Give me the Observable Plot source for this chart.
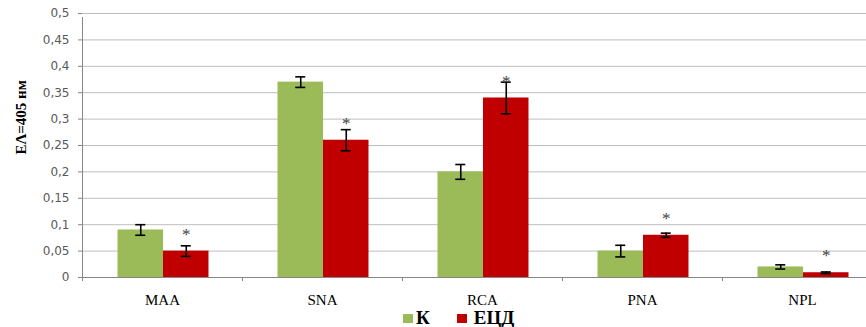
<!DOCTYPE html>
<html>
<head>
<meta charset="utf-8">
<script src="https://cdn.jsdelivr.net/npm/d3@7"></script>
<script src="https://cdn.jsdelivr.net/npm/@observablehq/plot@0.6"></script>
<style>
  html, body { margin: 0; padding: 0; background: #fff; overflow: hidden; }
  #wrap { position: relative; width: 866px; height: 327px; }
  #legend { position: absolute; left: 403px; top: 308px; font-family: "Liberation Serif", "Times New Roman", serif; font-weight: bold; font-size: 19px; line-height: 20px; display: flex; align-items: center; white-space: nowrap; }
  #legend .sw { display: inline-block; width: 10px; height: 9px; margin-right: 3px; }
</style>
</head>
<body>
<div id="wrap"><div id="chart"></div><div id="legend"></div></div>
<script>
const categories = ["MAA", "SNA", "RCA", "PNA", "NPL"];
const seriesNames = ["К", "ЕЦД"];
const valuesK   = [0.09, 0.37, 0.20, 0.05, 0.02];
const errorsK   = [0.010, 0.010, 0.014, 0.011, 0.004];
const valuesE   = [0.05, 0.26, 0.34, 0.08, 0.009];
const errorsE   = [0.010, 0.020, 0.030, 0.004, 0.0015];
const starY     = [0.089, 0.30, 0.379, 0.119, 0.050];
const yTicks    = [0, 0.05, 0.1, 0.15, 0.2, 0.25, 0.3, 0.35, 0.4, 0.45, 0.5];
const colors    = ["#9BBB59", "#C00000"];
const yTitle    = "ЕΛ=405 нм";

const data = [];
categories.forEach((c, i) => {
  data.push({cat: c, series: seriesNames[0], value: valuesK[i], err: errorsK[i]});
  data.push({cat: c, series: seriesNames[1], value: valuesE[i], err: errorsE[i]});
});
const kData = data.filter(d => d.series === seriesNames[0]);
const eData = data.filter(d => d.series === seriesNames[1]);
const stars = categories.map((c, i) => ({cat: c, y: starY[i]}));

const band = 160, barW = 45.5, outer = (band - 2 * barW) / 2;
const off = barW / 2;
const capInset = (barW - 10) / 2;

const plot = Plot.plot({
  width: 866,
  height: 327,
  marginLeft: 82,
  marginRight: -16,
  marginTop: 13,
  marginBottom: 50,
  style: {background: "#fff", overflow: "visible"},
  x: {domain: categories, padding: 0, label: null},
  y: {domain: [0, 0.5], label: null},
  color: {domain: seriesNames, range: colors},
  marks: [
    Plot.ruleY(yTicks, {stroke: "#BEBEBE", strokeWidth: 1}),
    Plot.barY(kData, {x: "cat", y: "value", fill: colors[0], insetLeft: outer + 1, insetRight: band - outer - barW - 1}),
    Plot.barY(eData, {x: "cat", y: "value", fill: colors[1], insetLeft: outer + barW + 1, insetRight: outer - 1}),
    // error bars
    Plot.ruleX(kData, {x: "cat", dx: -off + 1, y1: d => d.value - d.err, y2: d => d.value + d.err, stroke: "#000", strokeWidth: 1.6}),
    Plot.ruleX(eData, {x: "cat", dx: off + 1, y1: d => d.value - d.err, y2: d => d.value + d.err, stroke: "#000", strokeWidth: 1.6}),
    Plot.tickY(kData, {x: "cat", y: d => d.value + d.err, insetLeft: outer + capInset + 1, insetRight: band - outer - barW + capInset - 1, stroke: "#000", strokeWidth: 1.6}),
    Plot.tickY(kData, {x: "cat", y: d => d.value - d.err, insetLeft: outer + capInset + 1, insetRight: band - outer - barW + capInset - 1, stroke: "#000", strokeWidth: 1.6}),
    Plot.tickY(eData, {x: "cat", y: d => d.value + d.err, insetLeft: outer + barW + capInset + 1, insetRight: outer + capInset - 1, stroke: "#000", strokeWidth: 1.6}),
    Plot.tickY(eData, {x: "cat", y: d => d.value - d.err, insetLeft: outer + barW + capInset + 1, insetRight: outer + capInset - 1, stroke: "#000", strokeWidth: 1.6}),
    // significance stars
    Plot.text(stars, {x: "cat", y: "y", dx: off + 1, dy: 4, text: () => "*", fontSize: 17, fill: "#404040", fontFamily: "Liberation Serif, serif"}),
    // baseline and category separator ticks
    Plot.ruleY([0], {stroke: "#868686", strokeWidth: 1}),
    Plot.ruleX(categories, {x: d => d, dx: -band / 2, y1: 0, y2: 0, insetBottom: -4, stroke: "#868686", strokeWidth: 1}),
    Plot.ruleX([categories[0]], {x: d => d, dx: -band / 2, y1: 0, y2: 0.5, insetBottom: -4, stroke: "#868686", strokeWidth: 1}),
    Plot.axisY({ticks: yTicks, tickSize: 4, tickPadding: 9, tickFormat: d => String(d).replace(".", ","), stroke: "#868686", fill: "#595959", fontSize: 12, fontFamily: "DejaVu Sans, Verdana, sans-serif", label: null}),
    Plot.axisX({tickSize: 0, tickPadding: 17, fontSize: 15, fontFamily: "Liberation Serif, Times New Roman, serif", fill: "#000", label: null}),
    Plot.text([yTitle], {frameAnchor: "left", dx: -61, dy: 9, rotate: -90, text: d => d, fontWeight: "bold", fontSize: 15, fontFamily: "Liberation Serif, Times New Roman, serif", fill: "#000"})
  ]
});
document.getElementById("chart").appendChild(plot);

const legend = document.getElementById("legend");
seriesNames.forEach((s, i) => {
  const item = document.createElement("span");
  item.style.display = "inline-flex";
  item.style.alignItems = "center";
  item.style.marginRight = i === 0 ? "27px" : "0";
  const sw = document.createElement("span");
  sw.className = "sw";
  sw.style.background = colors[i];
  if (i === 1) sw.style.marginRight = "7px";
  item.appendChild(sw);
  item.appendChild(document.createTextNode(s));
  legend.appendChild(item);
});
</script>
</body>
</html>
